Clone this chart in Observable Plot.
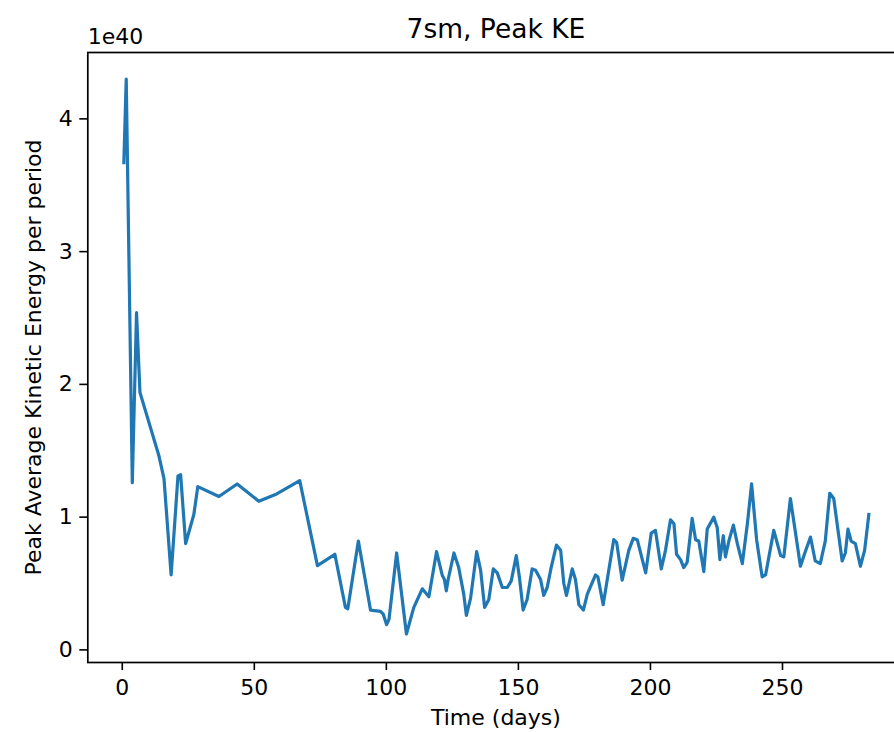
<!DOCTYPE html>
<html>
<head>
<meta charset="utf-8">
<script src="https://cdn.jsdelivr.net/npm/d3@7"></script>
<script src="https://cdn.jsdelivr.net/npm/@observablehq/plot@0.6"></script>
<style>
  html, body { margin: 0; padding: 0; overflow: hidden; background: #fff; }
  #chart { width: 894px; height: 732px; overflow: hidden; }
  #chart svg { display: block; max-width: none !important; }
</style>
</head>
<body>
<div id="chart"></div>
<script>
// Data (values in units of 1e40)
const days = [0.6, 1.5, 3.8, 5.4, 6.7, 13.9, 15.8, 18.5, 21.1, 22.1, 24.0, 27.1, 28.6, 36.6, 43.5, 51.7, 58.0, 67.2, 73.9, 80.5,
  84.5, 85.4, 89.4, 94.0, 97.8, 98.8, 100.1, 101.0, 103.9, 107.6, 110.4, 113.6, 116.1, 119.0, 121.2, 122.0, 122.7, 123.4, 125.6, 127.4,
  129.3, 130.3, 131.9, 134.2, 135.7, 137.2, 138.8, 140.5, 142.0, 143.9, 145.8, 147.3, 149.2, 150.4, 151.8, 153.3, 155.2, 156.5, 158.4, 159.6,
  160.9, 162.4, 164.4, 166.0, 167.2, 168.2, 170.4, 171.6, 172.9, 174.6, 176.1, 179.2, 180.1, 182.1, 186.1, 187.2, 189.3, 191.8, 193.5, 195.0,
  198.2, 200.3, 201.9, 204.1, 205.7, 207.6, 208.9, 209.9, 211.4, 212.6, 213.9, 215.8, 217.1, 218.3, 220.2, 221.5, 224.0, 225.3, 226.3, 227.6,
  228.4, 229.7, 231.4, 232.9, 234.8, 236.7, 238.3, 240.2, 242.3, 243.6, 246.7, 249.3, 250.5, 253.0, 256.8, 258.3, 260.6, 262.4, 264.3, 266.2,
  267.9, 269.4, 272.6, 273.8, 274.8, 276.0, 277.6, 279.5, 281.1, 282.7];
const peakKE = [3.67, 4.30, 1.26, 2.54, 1.94, 1.46, 1.29, 0.565, 1.31, 1.32, 0.80, 1.02, 1.23, 1.155, 1.25, 1.12, 1.17, 1.275, 0.635, 0.72,
  0.32, 0.31, 0.82, 0.30, 0.29, 0.27, 0.19, 0.23, 0.73, 0.12, 0.32, 0.46, 0.40, 0.74, 0.56, 0.53, 0.445, 0.53, 0.73, 0.62,
  0.42, 0.26, 0.39, 0.74, 0.60, 0.32, 0.38, 0.61, 0.58, 0.47, 0.47, 0.52, 0.71, 0.545, 0.30, 0.38, 0.61, 0.60, 0.53, 0.41,
  0.47, 0.62, 0.79, 0.75, 0.50, 0.41, 0.61, 0.53, 0.34, 0.30, 0.42, 0.565, 0.55, 0.34, 0.83, 0.81, 0.525, 0.75, 0.84, 0.83,
  0.58, 0.88, 0.90, 0.61, 0.75, 0.98, 0.95, 0.72, 0.68, 0.62, 0.66, 0.99, 0.83, 0.82, 0.59, 0.91, 1.00, 0.92, 0.68, 0.86,
  0.70, 0.82, 0.94, 0.80, 0.65, 0.95, 1.25, 0.83, 0.55, 0.565, 0.90, 0.71, 0.70, 1.14, 0.63, 0.72, 0.85, 0.67, 0.65, 0.82,
  1.18, 1.14, 0.67, 0.73, 0.91, 0.82, 0.80, 0.63, 0.75, 1.02];
const xTicks = [0, 50, 100, 150, 200, 250];
const yTicks = [0, 1, 2, 3, 4];
const titleText = "7sm, Peak KE";
const xLabel = "Time (days)";
const yLabel = "Peak Average Kinetic Energy per period";
const offsetText = "1e40";

const data = days.map((d, i) => ({day: d, ke: peakKE[i]}));
const font = "DejaVu Sans, sans-serif";

const chart = Plot.plot({
  width: 910,
  height: 732,
  marginLeft: 87.3,
  marginRight: 6.4,
  marginTop: 52,
  marginBottom: 70,
  style: {fontFamily: font, fontSize: "22px", color: "#000", background: "#fff", maxWidth: "none"},
  x: {domain: [-13.05, 296.05]},
  y: {domain: [-0.095, 4.5]},
  marks: [
    Plot.axisX({ticks: xTicks, tickSize: 8, tickPadding: 9, strokeWidth: 1.6, label: null, fontSize: 22, tickFormat: d => String(d)}),
    Plot.axisY({ticks: yTicks, tickSize: 8, tickPadding: 7, strokeWidth: 1.6, label: null, fontSize: 22, tickFormat: d => String(d)}),
    Plot.line(data, {x: "day", y: "ke", stroke: "#1f77b4", strokeWidth: 3.2, strokeLinejoin: "round", strokeLinecap: "square"}),
    Plot.frame({stroke: "#000", strokeWidth: 1.7}),
    Plot.text([titleText], {frameAnchor: "top", text: d => d, dy: -15, lineAnchor: "bottom", textAnchor: "middle", fontSize: 26.5, fill: "#000"}),
    Plot.text([offsetText], {frameAnchor: "top-left", text: d => d, dy: -9, lineAnchor: "bottom", textAnchor: "start", fontSize: 22, fill: "#000"}),
    Plot.text([xLabel], {frameAnchor: "bottom", text: d => d, dy: 55, lineAnchor: "middle", textAnchor: "middle", fontSize: 22, fill: "#000"}),
    Plot.text([yLabel], {frameAnchor: "left", text: d => d, dx: -54, rotate: -90, lineAnchor: "middle", textAnchor: "middle", fontSize: 22, fill: "#000"})
  ]
});
document.getElementById("chart").appendChild(chart);
</script>
</body>
</html>
